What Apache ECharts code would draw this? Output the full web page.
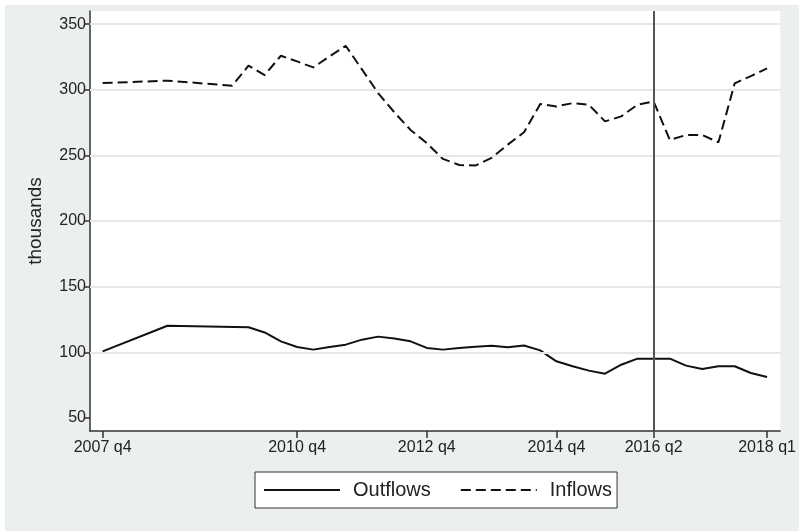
<!DOCTYPE html>
<html>
<head>
<meta charset="utf-8">
<script src="https://cdn.jsdelivr.net/npm/echarts@6/dist/echarts.min.js"></script>
<style>
  html, body { margin: 0; padding: 0; background: #ffffff; }
  #chart { position: absolute; left: 5px; top: 5px; width: 794px; height: 526px; }
</style>
</head>
<body>
<div id="chart"></div>
<script>
// Quarters (x categories)
const quarters = [
  '2007 q4',
  '2008 q1','2008 q2','2008 q3','2008 q4',
  '2009 q1','2009 q2','2009 q3','2009 q4',
  '2010 q1','2010 q2','2010 q3','2010 q4',
  '2011 q1','2011 q2','2011 q3','2011 q4',
  '2012 q1','2012 q2','2012 q3','2012 q4',
  '2013 q1','2013 q2','2013 q3','2013 q4',
  '2014 q1','2014 q2','2014 q3','2014 q4',
  '2015 q1','2015 q2','2015 q3','2015 q4',
  '2016 q1','2016 q2','2016 q3','2016 q4',
  '2017 q1','2017 q2','2017 q3','2017 q4',
  '2018 q1'
];
// Series values (thousands); null = no observation (line connects across)
const outflows = [
  100.7, null, null, null, 120.2, null, null, null, null, 119.0,
  115.1, 108.3, 104.0, 102.0, 104.0, 105.8, 109.6, 111.9, 110.4, 108.3,
  103.3, 102.0, 103.3, 104.2, 105.0, 103.8, 105.2, 101.4, 93.1, 89.3,
  86.0, 83.7, 90.5, 95.1, 95.1, 95.1, 89.8, 87.3, 89.3, 89.3,
  84.2, 81.2
];
const inflows = [
  305.1, null, null, null, 306.9, null, null, null, 303.1, 318.3,
  311.2, 325.9, 321.6, 317.0, 325.4, 333.5, 315.5, 297.5, 282.8, 269.4,
  259.4, 247.3, 242.7, 242.2, 248.1, 258.2, 267.6, 289.1, 287.3, 289.8,
  288.6, 275.9, 279.7, 288.6, 291.1, 261.7, 265.5, 265.5, 260.0, 304.9,
  310.4, 316.3
];
// Axis ticks
const xTickLabels = ['2007 q4', '2010 q4', '2012 q4', '2014 q4', '2016 q2', '2018 q1'];
const yTicks = [50, 100, 150, 200, 250, 300, 350];
const yGridLines = [100, 150, 200, 250, 300, 350];
const refLineQuarter = '2016 q2';

const xTickIdx = xTickLabels.map(l => quarters.indexOf(l));
const toPairs = arr => arr.map((v, i) => [i, v]).filter(p => p[1] !== null);

const FONT = "'Liberation Sans', Arial, Helvetica, sans-serif";
const TXT = '#222';
const AX = '#333';

const chart = echarts.init(document.getElementById('chart'));
chart.setOption({
  backgroundColor: '#eceff0',
  animation: false,
  textStyle: { fontFamily: FONT },
  grid: {
    left: 85, right: 14, top: 6, bottom: 100,
    show: true, backgroundColor: '#ffffff', borderWidth: 0
  },
  legend: {
    left: 250, top: 467,
    orient: 'horizontal',
    backgroundColor: '#ffffff',
    borderColor: '#333',
    borderWidth: 1,
    borderRadius: 0,
    padding: [8, 5, 8, 8],
    itemWidth: 76, itemHeight: 20, itemGap: 29,
    itemStyle: { opacity: 0 },
    textStyle: { fontFamily: FONT, fontSize: 20, color: TXT, padding: [0, 0, 0, 8] },
    data: ['Outflows', 'Inflows']
  },
  xAxis: {
    type: 'value',
    min: -0.78, max: 41.81,
    axisLine: { show: true, onZero: false, lineStyle: { color: AX, width: 1.5 } },
    axisTick: { show: true, length: 7, customValues: xTickIdx, lineStyle: { color: AX, width: 1.5 } },
    axisLabel: {
      customValues: xTickIdx,
      formatter: v => quarters[Math.round(v)],
      fontSize: 16, color: TXT, fontFamily: FONT, margin: 9
    },
    splitLine: { show: false }
  },
  yAxis: {
    type: 'value',
    min: 40, max: 360,
    name: 'thousands',
    nameLocation: 'middle',
    nameRotate: 90,
    nameGap: 45,
    nameTextStyle: { fontSize: 19, color: TXT, fontFamily: FONT },
    axisLine: { show: true, onZero: false, lineStyle: { color: AX, width: 1.5 } },
    axisTick: { show: true, length: 5, customValues: yTicks, lineStyle: { color: AX, width: 1.5 } },
    axisLabel: { customValues: yTicks, fontSize: 16, color: TXT, fontFamily: FONT, margin: 4 },
    splitLine: { show: false }
  },
  series: [
    {
      name: 'grid',
      type: 'line',
      data: [],
      z: 1,
      silent: true,
      markLine: {
        silent: true, symbol: 'none', label: { show: false },
        lineStyle: { color: '#e6e8e8', width: 2, type: 'solid' },
        data: yGridLines.map(v => ({ yAxis: v }))
      }
    },
    {
      name: 'Outflows',
      type: 'line',
      z: 3,
      data: toPairs(outflows),
      connectNulls: true,
      symbol: 'none',
      showSymbol: false,
      color: '#111',
      lineStyle: { color: '#111', width: 2, type: 'solid' }
    },
    {
      name: 'Inflows',
      type: 'line',
      z: 3,
      data: toPairs(inflows),
      connectNulls: true,
      symbol: 'none',
      showSymbol: false,
      color: '#111',
      lineStyle: { color: '#111', width: 2, type: [10, 5] },
      markLine: {
        silent: true, symbol: 'none', label: { show: false },
        lineStyle: { color: '#555', width: 2, type: 'solid' },
        data: [{ xAxis: quarters.indexOf(refLineQuarter) }]
      }
    }
  ]
});
</script>
</body>
</html>
